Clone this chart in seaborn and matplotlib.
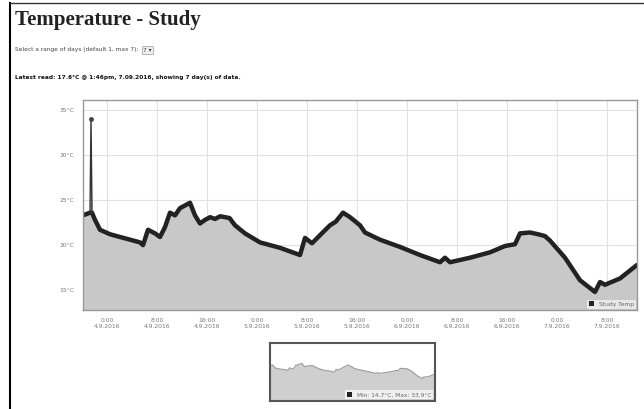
import numpy as np
import pandas as pd
import seaborn as sns
import matplotlib.pyplot as plt
from matplotlib.patches import Rectangle
from matplotlib.lines import Line2D

# hours since 0:00 4.9.2016 and temperature (C)
hours = [-3.84, -2.72, -2.56, -2.4, -1.92, -1.12, 0.5, 2.08, 3.7, 5.28, 5.76,
         6.56, 7.68, 8.48, 9.28, 10.08, 10.88, 11.68, 12.48, 13.28, 14.08,
         14.88, 15.68, 16.5, 17.28, 18.1, 18.88, 19.6, 20.48, 22.08, 24.48,
         27.68, 30.88, 31.68, 32.8, 34.08, 35.68, 36.6, 37.76, 38.88, 40.48,
         41.28, 43.68, 46.88, 50.08, 53.28, 54.08, 54.88, 58.08, 61.28, 63.68,
         65.28, 66.08, 67.68, 69.0, 70.08, 70.88, 73.28, 75.68, 78.08, 78.88,
         79.68, 82.08, 84.8]
temps = [23.3, 23.6, 34.0, 23.6, 22.8, 21.7, 21.2, 20.9, 20.6, 20.3, 20.0,
         21.7, 21.3, 20.9, 22.0, 23.6, 23.3, 24.1, 24.4, 24.7, 23.3,
         22.4, 22.8, 23.1, 22.9, 23.2, 23.1, 23.0, 22.2, 21.3, 20.3,
         19.7, 18.9, 20.8, 20.2, 21.1, 22.2, 22.6, 23.6, 23.1, 22.2,
         21.4, 20.6, 19.8, 18.9, 18.1, 18.6, 18.1, 18.6, 19.2, 19.9,
         20.1, 21.3, 21.4, 21.2, 21.0, 20.5, 18.6, 16.1, 14.8, 15.9,
         15.6, 16.3, 17.8]
spike_idx = 2

y_ticks = [15, 20, 25, 30, 35]
x_ticks = [0, 8, 16, 24, 32, 40, 48, 56, 64, 72, 80]
x_labels = ['0:00\n4.9.2016', '8:00\n4.9.2016', '16:00\n4.9.2016',
            '0:00\n5.9.2016', '8:00\n5.9.2016', '16:00\n5.9.2016',
            '0:00\n6.9.2016', '8:00\n6.9.2016', '16:00\n6.9.2016',
            '0:00\n7.9.2016', '8:00\n7.9.2016']

df = pd.DataFrame({'hour': hours, 'temp': temps})
smooth = df.drop(index=spike_idx)
spike = df.iloc[spike_idx - 1:spike_idx + 2]

W, H = 644, 409
fig = plt.figure(figsize=(W / 100, H / 100), dpi=100)
fig.patch.set_facecolor('white')

def box(x0, y0, x1, y1):
    return [x0 / W, 1 - y1 / H, (x1 - x0) / W, (y1 - y0) / H]

# page frame
fig.add_artist(Line2D([10 / W, 10 / W], [0, 1 - 3 / H], color='black', lw=1.5))
fig.add_artist(Line2D([10 / W, 1], [1 - 3 / H, 1 - 3 / H], color='#333333', lw=1))

fig.text(15 / W, 1 - 20 / H, 'Temperature - Study', family='Liberation Serif',
         weight='bold', fontsize=15, color='#222222', va='center')
fig.text(15 / W, 1 - 50 / H, 'Select a range of days (default 1, max 7):',
         fontsize=4.2, color='#444444', va='center')
fig.text(143 / W, 1 - 50 / H, '7 \u25be', fontsize=4.2, color='#444444', va='center',
         bbox=dict(boxstyle='square,pad=0.2', fc='#f0f0f0', ec='#aaaaaa', lw=0.6))
fig.text(15 / W, 1 - 78 / H,
         'Latest read: 17.6\u00b0C @ 1:46pm, 7.09.2016, showing 7 day(s) of data.',
         fontsize=4.2, weight='bold', color='#111111', va='center')

# main chart
ax = fig.add_axes(box(83, 100, 637, 310))
ax.fill_between(df['hour'], df['temp'], 0, color='#c8c8c8', lw=0)
sns.lineplot(data=smooth, x='hour', y='temp', ax=ax, color='#222222', lw=3.2,
             solid_joinstyle='round', solid_capstyle='round')
sns.lineplot(data=spike, x='hour', y='temp', ax=ax, color='#333333', lw=1.0)
ax.plot([hours[spike_idx]], [temps[spike_idx]], marker='o', ms=2.5, color='#444444')
ax.set_xlim(hours[0], hours[-1])
ax.set_ylim(12.8, 36.1)
ax.set_yticks(y_ticks)
ax.set_yticklabels([f'{t}\u00b0C' for t in y_ticks])
ax.set_xticks(x_ticks)
ax.set_xticklabels(x_labels)
ax.grid(True, color='#e2e2e2', lw=0.8)
ax.set_axisbelow(True)
ax.tick_params(length=0, labelsize=4.3, labelcolor='#777777', pad=6)
ax.set_xlabel('')
ax.set_ylabel('')
for s in ax.spines.values():
    s.set_color('#999999')
    s.set_linewidth(1)
leg = ax.legend(handles=[Rectangle((0, 0), 1, 1, fc='#222222')], labels=['Study Temp'],
                loc='lower right', fontsize=4.3, frameon=True, handlelength=0.9,
                handleheight=0.9, borderpad=0.3, borderaxespad=0.2, fancybox=False)
leg.get_frame().set_facecolor('white')
leg.get_frame().set_alpha(0.6)
leg.get_frame().set_linewidth(0)
for t in leg.get_texts():
    t.set_color('#666666')

# navigator
ax2 = fig.add_axes(box(270, 343, 435, 401))
ax2.fill_between(smooth['hour'], smooth['temp'], 0, color='#cfcfcf', lw=0)
sns.lineplot(data=smooth, x='hour', y='temp', ax=ax2, color='#999999', lw=0.8)
ax2.set_xlim(hours[0], hours[-1])
ax2.set_ylim(0, 38)
ax2.set_xticks([])
ax2.set_yticks([])
ax2.set_xlabel('')
ax2.set_ylabel('')
for s in ax2.spines.values():
    s.set_color('#555555')
    s.set_linewidth(1.5)
leg2 = ax2.legend(handles=[Rectangle((0, 0), 1, 1, fc='#222222')],
                  labels=['Min: 14.7\u00b0C, Max: 33.9\u00b0C'], loc='lower right',
                  fontsize=4.2, frameon=True, handlelength=0.9, handleheight=0.9,
                  borderpad=0.3, borderaxespad=0.3, fancybox=False)
leg2.get_frame().set_facecolor('white')
leg2.get_frame().set_alpha(0.7)
leg2.get_frame().set_linewidth(0)
for t in leg2.get_texts():
    t.set_color('#666666')

fig.savefig('out.png', dpi=100)
